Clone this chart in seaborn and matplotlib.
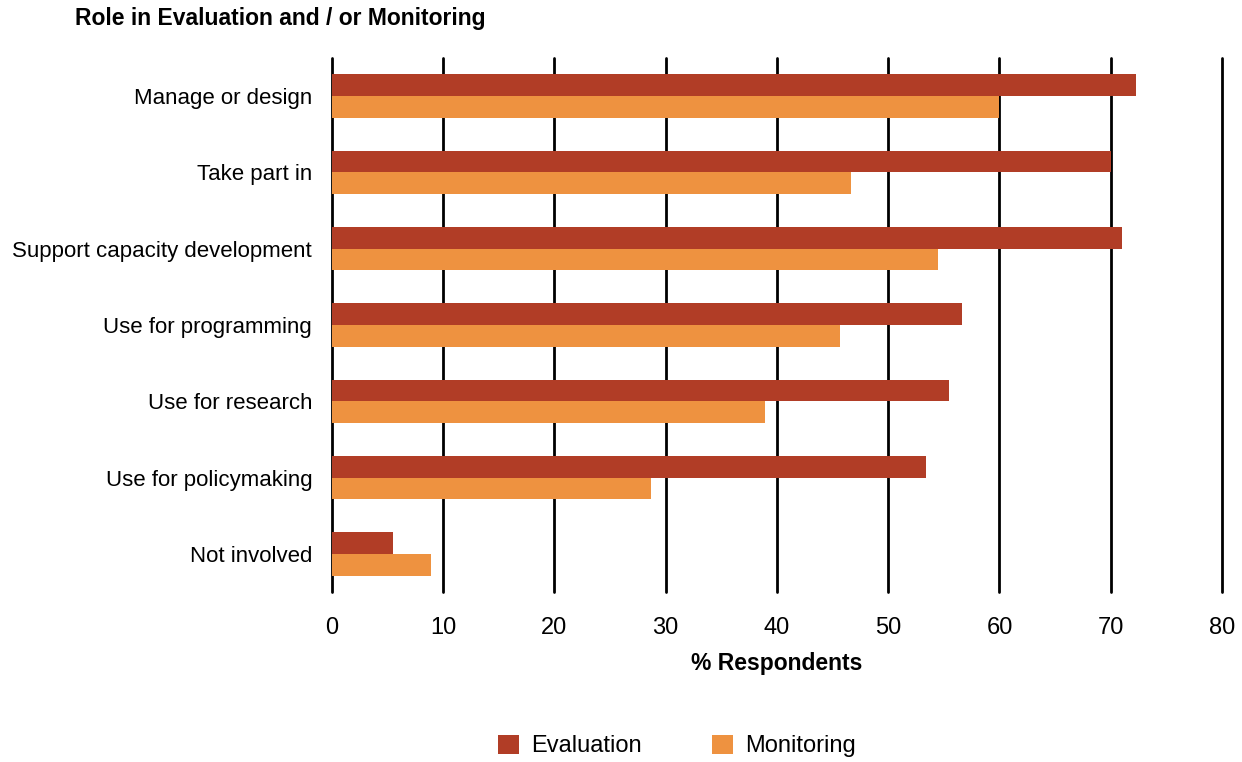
import pandas as pd
import numpy as np
import matplotlib
matplotlib.use("Agg")
import matplotlib.pyplot as plt
import seaborn as sns

roles = ["Manage or design", "Take part in", "Support capacity development",
         "Use for programming", "Use for research", "Use for policymaking", "Not involved"]
evaluation = [72.3, 70.0, 71.0, 56.6, 55.5, 53.4, 5.5]
monitoring = [60.0, 46.7, 54.5, 45.7, 38.9, 28.7, 8.9]

df = pd.DataFrame({
    "role": roles * 2,
    "pct": evaluation + monitoring,
    "type": ["Evaluation"] * len(roles) + ["Monitoring"] * len(roles),
})

sns.set_theme(style="white")
plt.rcParams["font.family"] = ["Liberation Sans", "DejaVu Sans"]

fig = plt.figure(figsize=(12.42, 7.62), dpi=100)
ax = fig.add_axes([0.267, 0.223, 0.717, 0.701])

sns.barplot(data=df, y="role", x="pct", hue="type", order=roles,
            palette={"Evaluation": "#B13D26", "Monitoring": "#EE9240"},
            width=0.57, saturation=1, linewidth=0, ax=ax)

ax.set_xlim(0, 80)
ax.set_xticks(range(0, 81, 10))
ax.xaxis.grid(True, color="black", linewidth=2)
for gl in ax.get_xgridlines():
    gl.set_clip_on(False)
ax.set_axisbelow(True)
for s in ax.spines.values():
    s.set_visible(False)
ax.tick_params(axis="both", length=0, labelsize=17, colors="black")
ax.tick_params(axis="y", labelsize=16, pad=14)
ax.tick_params(axis="x", pad=18)
ax.set_ylabel("")
ax.set_xlabel("% Respondents", fontsize=16.5, fontweight="bold", labelpad=9,
              color="black")

fig.text(0.06, 0.976, "Role in Evaluation and / or Monitoring",
         fontsize=16.5, fontweight="bold", va="center", ha="left", color="black")

sns.move_legend(ax, "center", bbox_to_anchor=(0.545, 0.021),
                bbox_transform=fig.transFigure, ncol=2, frameon=False,
                title=None, fontsize=17, handlelength=0.9, handleheight=0.9,
                columnspacing=3.0, handletextpad=0.5, labelcolor="black")

plt.savefig("out.png", dpi=100)
plt.close()
